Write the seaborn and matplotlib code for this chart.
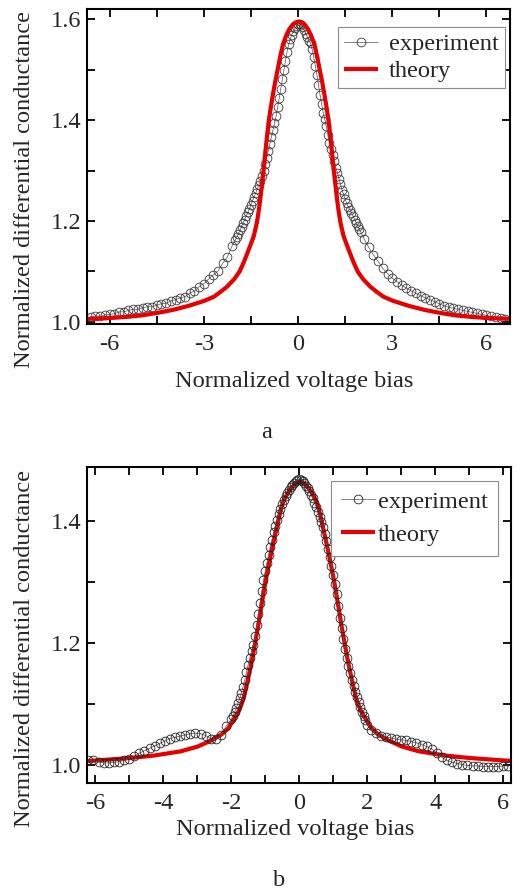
import matplotlib
matplotlib.use("Agg")
import matplotlib.pyplot as plt
import seaborn as sns
from matplotlib.ticker import MultipleLocator, FormatStrFormatter

# ---------------- data ----------------
# Panel a : experiment
exp_a_x = [-6.6, -6.45, -6.3, -6.15, -6.0, -5.85, -5.7, -5.55, -5.4, -5.25, -5.1, -4.95, -4.8, -4.65,
           -4.5, -4.35, -4.2, -4.05, -3.9, -3.75, -3.6, -3.45, -3.3, -3.15, -3.0, -2.85, -2.7, -2.55,
           -2.4, -2.25, -2.1,
           -2.0, -1.95, -1.9, -1.85, -1.8, -1.75, -1.7, -1.65, -1.6, -1.55,
           -1.5, -1.45, -1.4, -1.35, -1.3, -1.25, -1.2, -1.15, -1.1, -1.05,
           -1.0, -0.95, -0.9, -0.85, -0.8, -0.75, -0.7, -0.65, -0.6, -0.55,
           -0.5, -0.45, -0.4, -0.35, -0.3, -0.25, -0.2, -0.15, -0.1, -0.05,
           0.0,
           0.05, 0.1, 0.15, 0.2, 0.25, 0.3, 0.35, 0.4, 0.45, 0.5,
           0.55, 0.6, 0.65, 0.7, 0.75, 0.8, 0.85, 0.9, 0.95, 1.0,
           1.05, 1.1, 1.15, 1.2, 1.25, 1.3, 1.35, 1.4, 1.45, 1.5,
           1.55, 1.6, 1.65, 1.7, 1.75, 1.8, 1.85, 1.9, 1.95, 2.0,
           2.1, 2.25, 2.4, 2.55, 2.7, 2.85, 3.0, 3.15, 3.3, 3.45, 3.6, 3.75, 3.9, 4.05, 4.2, 4.35,
           4.5, 4.65, 4.8, 4.95, 5.1, 5.25, 5.4, 5.55, 5.7, 5.85, 6.0, 6.15, 6.3, 6.45, 6.6]
exp_a_y = [1.010, 1.012, 1.011, 1.014, 1.015, 1.016, 1.020, 1.020, 1.023, 1.025, 1.025, 1.028, 1.030, 1.030,
           1.034, 1.036, 1.037, 1.042, 1.044, 1.048, 1.050, 1.057, 1.061, 1.070, 1.076, 1.085, 1.093, 1.101,
           1.116, 1.129, 1.151,
           1.162, 1.168, 1.175, 1.182, 1.189, 1.196, 1.203, 1.210, 1.217, 1.224,
           1.231, 1.240, 1.248, 1.255, 1.263, 1.271, 1.280, 1.290, 1.300, 1.312,
           1.325, 1.338, 1.352, 1.366, 1.380, 1.394, 1.408, 1.425, 1.443, 1.462,
           1.482, 1.500, 1.518, 1.535, 1.550, 1.560, 1.569, 1.576, 1.582, 1.586,
           1.590,
           1.590, 1.588, 1.584, 1.578, 1.571, 1.564, 1.557, 1.552, 1.540, 1.524,
           1.508, 1.490, 1.470, 1.450, 1.432, 1.415, 1.402, 1.388, 1.370, 1.355,
           1.343, 1.330, 1.318, 1.306, 1.296, 1.284, 1.273, 1.262, 1.253, 1.243,
           1.235, 1.228, 1.222, 1.216, 1.210, 1.203, 1.197, 1.190, 1.184, 1.178,
           1.165, 1.148, 1.133, 1.120, 1.106, 1.096, 1.087, 1.080, 1.073, 1.067, 1.062, 1.057, 1.052,
           1.048, 1.044, 1.040, 1.036, 1.032, 1.029, 1.027, 1.025, 1.023, 1.021, 1.019, 1.017, 1.015,
           1.013, 1.011, 1.010, 1.008, 1.006]

# Panel a : theory
theo_a_x = [-6.75, -5.98, -5.48, -4.98, -4.48, -3.98, -3.48, -2.98, -2.68, -2.48, -2.26, -2.03, -1.86,
            -1.73, -1.56, -1.41, -1.31, -1.24, -1.18, -1.09, -1.01, -0.94, -0.88, -0.81, -0.73, -0.64,
            -0.56, -0.48, -0.38, -0.28, -0.16, -0.08,
            0.02,
            0.12, 0.2, 0.32, 0.42, 0.52, 0.6, 0.68, 0.77, 0.85, 0.92, 0.98, 1.05, 1.13, 1.22, 1.28,
            1.35, 1.45, 1.6, 1.77, 1.9, 2.07, 2.3, 2.52, 2.72, 3.02, 3.52, 4.02, 4.52, 5.02, 5.52,
            6.02, 6.79]
theo_a_y = [1.006, 1.008, 1.010, 1.013, 1.018, 1.024, 1.032, 1.042, 1.050, 1.059, 1.070, 1.085, 1.100,
            1.118, 1.145, 1.170, 1.197, 1.225, 1.255, 1.305, 1.355, 1.395, 1.420, 1.447, 1.475, 1.503,
            1.528, 1.550, 1.567, 1.580, 1.590, 1.593,
            1.595,
            1.593, 1.590, 1.580, 1.567, 1.550, 1.528, 1.503, 1.475, 1.447, 1.420, 1.395, 1.355, 1.305,
            1.255, 1.225, 1.197, 1.170, 1.145, 1.118, 1.100, 1.085, 1.070, 1.059, 1.050, 1.042, 1.032,
            1.024, 1.018, 1.013, 1.010, 1.008, 1.006]

# Panel b : experiment
exp_b_x = [-6.2, -6.05, -5.9, -5.75, -5.6, -5.45, -5.3, -5.15, -5.0, -4.85, -4.7, -4.55, -4.4, -4.25,
           -4.1, -3.95, -3.8, -3.65, -3.5, -3.35, -3.2, -3.05, -2.9, -2.75, -2.6, -2.45, -2.3, -2.15,
           -2.0, -1.95, -1.9, -1.85, -1.8, -1.75, -1.7, -1.65, -1.6, -1.55,
           -1.5, -1.45, -1.4, -1.35, -1.3, -1.25, -1.2, -1.15, -1.1, -1.05,
           -1.0, -0.95, -0.9, -0.85, -0.8, -0.75, -0.7, -0.65, -0.6, -0.55,
           -0.5, -0.45, -0.4, -0.35, -0.3, -0.25, -0.2, -0.15, -0.1, -0.05,
           0.0,
           0.05, 0.1, 0.15, 0.2, 0.25, 0.3, 0.35, 0.4, 0.45, 0.5,
           0.55, 0.6, 0.65, 0.7, 0.75, 0.8, 0.85, 0.9, 0.95, 1.0,
           1.05, 1.1, 1.15, 1.2, 1.25, 1.3, 1.35, 1.4, 1.45, 1.5,
           1.55, 1.6, 1.65, 1.7, 1.75, 1.8, 1.85, 1.9, 1.95, 2.0,
           2.1, 2.25, 2.4, 2.55, 2.7, 2.85, 3.0, 3.15, 3.3, 3.45, 3.6, 3.75, 3.9, 4.05,
           4.2, 4.35, 4.5, 4.65, 4.8, 4.95, 5.1, 5.25, 5.4, 5.55, 5.7, 5.85, 6.0, 6.15]
exp_b_y = [1.008, 1.007, 1.005, 1.003, 1.003, 1.004, 1.005, 1.007, 1.010, 1.014, 1.019, 1.023, 1.027, 1.031,
           1.035, 1.039, 1.043, 1.045, 1.047, 1.049, 1.051, 1.052, 1.051, 1.048, 1.043, 1.042, 1.049, 1.063,
           1.075, 1.080, 1.086, 1.093, 1.101, 1.109, 1.118, 1.128, 1.139, 1.152,
           1.164, 1.176, 1.187, 1.197, 1.211, 1.229, 1.248, 1.266, 1.285, 1.303,
           1.318, 1.332, 1.345, 1.358, 1.370, 1.382, 1.393, 1.403, 1.412, 1.420,
           1.428, 1.435, 1.441, 1.447, 1.452, 1.456, 1.460, 1.463, 1.466, 1.468,
           1.469,
           1.468, 1.466, 1.463, 1.459, 1.455, 1.450, 1.444, 1.438, 1.431, 1.424,
           1.416, 1.408, 1.399, 1.390, 1.379, 1.367, 1.354, 1.341, 1.327, 1.312,
           1.297, 1.280, 1.261, 1.242, 1.224, 1.207, 1.191, 1.176, 1.162, 1.150,
           1.140, 1.130, 1.120, 1.111, 1.103, 1.095, 1.087, 1.080, 1.073, 1.066,
           1.057, 1.052, 1.048, 1.046, 1.044, 1.042, 1.041, 1.040, 1.038, 1.036, 1.033, 1.030, 1.026, 1.019,
           1.012, 1.007, 1.004, 1.002, 1.000, 0.999, 0.998, 0.998, 0.997, 0.997, 0.997, 0.997, 0.998, 0.998]

# Panel b : theory
theo_b_x = [-6.25, -5.98, -4.98, -4.28, -3.48, -2.98, -2.58, -2.28, -2.08, -1.93, -1.76, -1.63, -1.54,
            -1.43, -1.35, -1.28, -1.2, -1.12, -1.04, -0.96, -0.88, -0.78, -0.7, -0.62, -0.54, -0.45,
            -0.33, -0.22, -0.1,
            0.02,
            0.14, 0.26, 0.37, 0.49, 0.58, 0.66, 0.74, 0.82, 0.92, 1.0, 1.08, 1.16, 1.24, 1.32, 1.39,
            1.47, 1.58, 1.67, 1.8, 1.97, 2.12, 2.32, 2.62, 3.02, 3.52, 4.32, 5.02, 6.02, 6.29]
theo_b_y = [1.006, 1.007, 1.011, 1.015, 1.022, 1.030, 1.040, 1.050, 1.060, 1.074, 1.090, 1.110, 1.132,
            1.160, 1.183, 1.205, 1.230, 1.258, 1.285, 1.310, 1.333, 1.360, 1.380, 1.400, 1.420, 1.435,
            1.447, 1.456, 1.463,
            1.466,
            1.463, 1.456, 1.447, 1.435, 1.420, 1.400, 1.380, 1.360, 1.333, 1.310, 1.285, 1.258, 1.230,
            1.205, 1.183, 1.160, 1.132, 1.110, 1.090, 1.074, 1.060, 1.050, 1.040, 1.030, 1.022, 1.015,
            1.011, 1.007, 1.006]

series_labels = ["experiment", "theory"]
x_label = "Normalized voltage bias"
y_label = "Normalized differential conductance"
panel_labels = ["a", "b"]

# ---------------- style ----------------
sns.set_theme(style="ticks")
plt.rcParams['font.family'] = ['Liberation Serif', 'DejaVu Serif']
plt.rcParams['axes.unicode_minus'] = False

RED = "#e60000"
FS = 17.6

fig = plt.figure(figsize=(5.17, 8.94), dpi=100)
axA = fig.add_axes([0.1683, 0.6376, 0.8182, 0.3523])
axB = fig.add_axes([0.1683, 0.1242, 0.8201, 0.3538])


def draw(ax, ex, ey, tx, ty, exp_top, xlim, ylim, xmaj, ymaj, leg_anchor, htp, xl_y, bpad, lsp, mec):
    sns.lineplot(x=ex, y=ey, ax=ax, color="#555555", linewidth=0.5, marker="o",
                 markersize=6.3, markerfacecolor="none", markeredgecolor=mec,
                 markeredgewidth=0.6, sort=False, estimator=None,
                 label=series_labels[0], zorder=3 if exp_top else 2)
    sns.lineplot(x=tx, y=ty, ax=ax, color=RED, linewidth=3.0, sort=False,
                 estimator=None, label=series_labels[1], zorder=2.5,
                 solid_joinstyle="round", solid_capstyle="butt")
    ax.set_xlim(*xlim)
    ax.set_ylim(*ylim)
    ax.xaxis.set_major_locator(MultipleLocator(xmaj))
    ax.xaxis.set_minor_locator(MultipleLocator(xmaj / 2))
    ax.yaxis.set_major_locator(MultipleLocator(ymaj))
    ax.yaxis.set_minor_locator(MultipleLocator(ymaj / 2))
    ax.xaxis.set_major_formatter(FormatStrFormatter("%g"))
    ax.yaxis.set_major_formatter(FormatStrFormatter("%.1f"))
    ax.tick_params(which="both", direction="in", top=True, right=True,
                   length=5.5, width=1.3, color="black", labelsize=FS)
    ax.tick_params(axis="x", which="both", pad=7)
    ax.tick_params(axis="y", which="both", pad=4)
    for s in ax.spines.values():
        s.set_linewidth(1.5)
        s.set_color("black")
        s.set_visible(True)
    ax.set_xlabel(x_label, fontsize=FS, va="center")
    ax.set_ylabel(y_label, fontsize=FS, va="center")
    ax.xaxis.set_label_coords(0.49, xl_y)
    ax.yaxis.set_label_coords(-0.148, 0.426)
    h, l = ax.get_legend_handles_labels()
    leg = ax.legend(h, l, loc="upper right", bbox_to_anchor=leg_anchor,
                    frameon=True, fancybox=False, framealpha=1, edgecolor="#8c8c8c",
                    numpoints=1, handlelength=1.4, handletextpad=htp, fontsize=FS,
                    borderpad=bpad, labelspacing=lsp, borderaxespad=0)
    leg.get_frame().set_linewidth(0.8)


draw(axA, exp_a_x, exp_a_y, theo_a_x, theo_a_y, False,
     (-6.72, 6.75), (0.996, 1.62), 3, 0.2, (0.988, 0.943), 0.45, -0.183, 0.25, 0.2, "#3a3a3a")
draw(axB, exp_b_x, exp_b_y, theo_b_x, theo_b_y, True,
     (-6.24, 6.23), (0.970, 1.49), 2, 0.2, (0.969, 0.955), 0.12, -0.148, 0.4, 0.45, "#222222")

fig.text(267 / 517, 1 - 432 / 894, panel_labels[0], ha="center", va="center", fontsize=FS)
fig.text(279 / 517, 1 - 880 / 894, panel_labels[1], ha="center", va="center", fontsize=FS)

fig.savefig("out.png", dpi=100, facecolor="white")
